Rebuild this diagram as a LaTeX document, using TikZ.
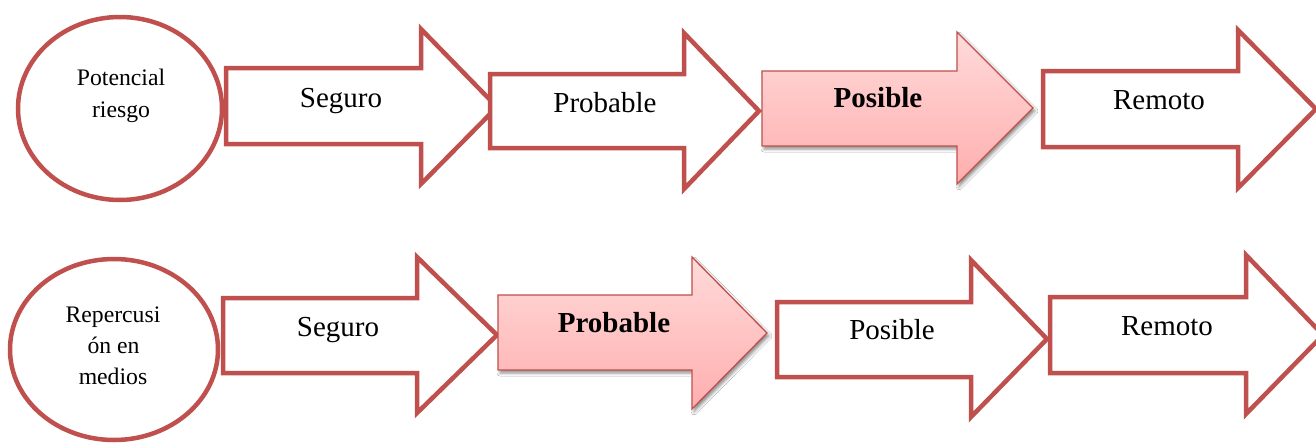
\documentclass[tikz,border=0pt]{standalone}
\usepackage{fontspec}
\setmainfont{Liberation Serif}
\usetikzlibrary{shadows.blur}
\definecolor{rojo}{RGB}{192,80,77}
\definecolor{rosaA}{RGB}{255,218,218}
\definecolor{rosaB}{RGB}{255,174,174}
\tikzset{
  hueca/.style={draw=rojo, line width=4.5pt, fill=white, line join=miter, miter limit=10},
  llena/.style={draw=rojo, line width=1.3pt, top color=rosaA, bottom color=rosaB,
    blur shadow={shadow xshift=2pt, shadow yshift=-3pt, shadow blur radius=3pt, shadow opacity=45}},
  circulo/.style={draw=rojo, line width=4.5pt, fill=white},
  etq/.style={font=\fontsize{29}{34}\selectfont, anchor=base, inner sep=0pt},
  etqb/.style={font=\fontsize{29}{34}\selectfont\bfseries, anchor=base, inner sep=0pt},
  etqc/.style={font=\fontsize{23.7}{31.5}\selectfont, anchor=base, inner sep=0pt}
}
\begin{document}
\begin{tikzpicture}[x=1pt, y=-1pt]
  \useasboundingbox[fill=white] (0,0) rectangle (1316,442);

  % ---- first row: potential risk ----
  \draw[circulo] (120,108.5) ellipse [x radius=102, y radius=91.5];
  \node[etqc] (pr1) at (121,85) {Potencial};
  \node[etqc] (pr2) at (121,117) {riesgo};

  \draw[hueca] (226,68) -- (421,68) -- (421,29) -- (497,107) -- (421,184) -- (421,144) -- (226,144) -- cycle;
  \node[etq] (a1) at (341,107) {Seguro};

  \draw[hueca] (490,74) -- (684,74) -- (684,33) -- (759,111) -- (684,189) -- (684,148) -- (490,148) -- cycle;
  \node[etq] (a2) at (605,112) {Probable};

  \draw[llena] (762,71) -- (957,71) -- (957,32) -- (1033,108) -- (957,184) -- (957,146) -- (762,146) -- cycle;
  \node[etqb] (a3) at (878,107) {Posible};

  \draw[hueca] (1043,71) -- (1238,71) -- (1238,30) -- (1316,109) -- (1238,188) -- (1238,147) -- (1043,147) -- cycle;
  \node[etq] (a4) at (1159,109) {Remoto};

  % ---- second row: media repercussion ----
  \draw[circulo] (114,349.5) ellipse [x radius=104, y radius=90.5];
  \node[etqc] (rm1) at (113,322) {Repercusi};
  \node[etqc] (rm2) at (113.5,353) {ón en};
  \node[etqc] (rm3) at (113,384) {medios};

  \draw[hueca] (223,298) -- (417,298) -- (417,257) -- (497,335) -- (417,413) -- (417,373) -- (223,373) -- cycle;
  \node[etq] (b1) at (338,336) {Seguro};

  \draw[llena] (498,295) -- (692,295) -- (692,257) -- (767,333) -- (692,409) -- (692,370) -- (498,370) -- cycle;
  \node[etqb] (b2) at (614,332) {Probable};

  \draw[hueca] (777,302) -- (971,302) -- (971,260) -- (1047,339) -- (971,417) -- (971,377) -- (777,377) -- cycle;
  \node[etq] (b3) at (892,339) {Posible};

  \draw[hueca] (1050,297) -- (1246,297) -- (1246,255) -- (1323,335) -- (1246,414) -- (1246,373) -- (1050,373) -- cycle;
  \node[etq] (b4) at (1167,335) {Remoto};
\end{tikzpicture}
\end{document}
